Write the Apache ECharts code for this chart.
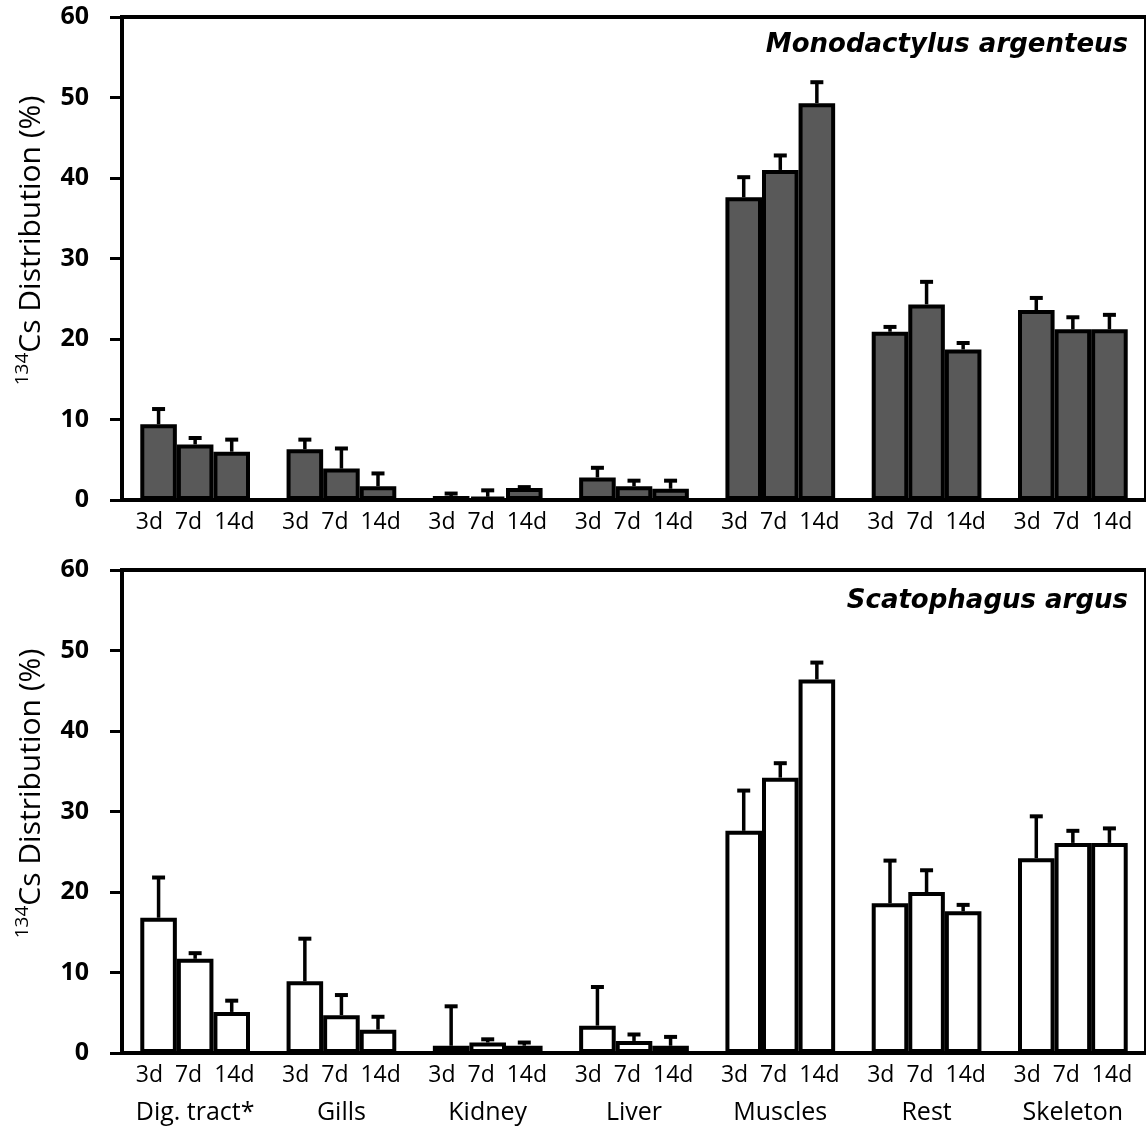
<!DOCTYPE html>
<html>
<head>
<meta charset="utf-8">
<script src="https://cdn.jsdelivr.net/npm/echarts@6/dist/echarts.min.js"></script>
<style>html,body{margin:0;padding:0;background:#fff}#c{width:1146px;height:1128px}</style>
</head>
<body>
<div id="c"></div>
<script>
const categories = ['Dig. tract*', 'Gills', 'Kidney', 'Liver', 'Muscles', 'Rest', 'Skeleton'];
const timeLabel = '3d  7d  14d';
const yTicks = [0, 10, 20, 30, 40, 50, 60];

// Monodactylus argenteus (mean, SD) for 3d, 7d, 14d
const maMean3d  = [9.4, 6.3, 0.5, 2.8, 37.6, 20.9, 23.6];
const maMean7d  = [6.9, 3.9, 0.4, 1.7, 41.0, 24.3, 21.2];
const maMean14d = [6.0, 1.7, 1.5, 1.4, 49.3, 18.7, 21.2];
const maSd3d    = [1.9, 1.2, 0.3, 1.2, 2.5, 0.6, 1.5];
const maSd7d    = [0.8, 2.5, 0.8, 0.7, 1.8, 2.8, 1.5];
const maSd14d   = [1.5, 1.6, 0.1, 1.0, 2.6, 0.8, 1.8];

// Scatophagus argus (mean, SD) for 3d, 7d, 14d
const saMean3d  = [16.8, 8.9, 0.9, 3.4, 27.6, 18.6, 24.2];
const saMean7d  = [11.7, 4.7, 1.3, 1.5, 34.2, 20.0, 26.1];
const saMean14d = [5.1, 2.9, 0.9, 0.9, 46.4, 17.6, 26.1];
const saSd3d    = [5.0, 5.3, 4.9, 4.8, 5.0, 5.3, 5.2];
const saSd7d    = [0.7, 2.5, 0.4, 0.8, 1.8, 2.7, 1.5];
const saSd14d   = [1.4, 1.6, 0.4, 1.1, 2.1, 0.8, 1.8];

const FONT = 'Open Sans';
const TITLE_FONT = 'DejaVu Sans';
const GAP = 0.25; // bar category gap

function errData(means, sds) {
  const out = [];
  means.forEach((ms, s) => ms.forEach((m, i) => out.push([i, m, sds[s][i], s])));
  return out;
}

function renderErr(params, api) {
  const cat = api.value(0), mean = api.value(1), sd = api.value(2), s = api.value(3);
  const base = api.coord([cat, mean]);
  const top = api.coord([cat, mean + sd]);
  const band = api.size([1, 0])[0];
  const bw = band * (1 - GAP) / 3;
  const x = base[0] + (s - 1) * bw;
  return {
    type: 'group',
    children: [
      {type: 'line', shape: {x1: x, y1: base[1], x2: x, y2: top[1]}, style: {stroke: '#000', lineWidth: 3.5}},
      {type: 'line', shape: {x1: x - 6.5, y1: top[1], x2: x + 6.5, y2: top[1]}, style: {stroke: '#000', lineWidth: 4}}
    ]
  };
}

function yAxisCfg(gi) {
  return {
    type: 'value', gridIndex: gi, min: 0, max: 60, interval: 10,
    splitLine: {show: false},
    axisLine: {show: true, lineStyle: {color: '#000', width: 4}},
    axisTick: {show: true, length: 12, lineStyle: {color: '#000', width: 3}},
    axisLabel: {color: '#000', fontFamily: FONT, fontWeight: 'bold', fontSize: 25, margin: 33,
      formatter: v => yTicks.includes(v) ? String(v) : ''},
    name: '{sup|134}{m|Cs Distribution (%)}',
    nameLocation: 'middle', nameGap: 73, nameRotate: 90,
    nameTextStyle: {color: '#000', fontFamily: FONT, fontSize: 30, padding: [0, 0, 0, 36],
      rich: {sup: {fontSize: 19, fontFamily: FONT, color: '#000', verticalAlign: 'top', lineHeight: 36},
             m: {fontSize: 30, fontFamily: FONT, color: '#000', lineHeight: 36}}}
  };
}

function barSeries(gi, data, color) {
  return {
    type: 'bar', xAxisIndex: gi, yAxisIndex: gi, data: data,
    barGap: '0%', barCategoryGap: (GAP * 100) + '%',
    itemStyle: {color: color, borderColor: '#000', borderWidth: 4},
    silent: true
  };
}

const option = {
  animation: false,
  backgroundColor: '#fff',
  title: [
    {text: 'Monodactylus argenteus', right: 13, top: 27,
     textStyle: {fontFamily: TITLE_FONT, fontStyle: 'italic', fontWeight: 'bold', fontSize: 26, color: '#000'}},
    {text: 'Scatophagus argus', right: 13, top: 583,
     textStyle: {fontFamily: TITLE_FONT, fontStyle: 'italic', fontWeight: 'bold', fontSize: 26, color: '#000'}}
  ],
  grid: [
    {left: 122, width: 1027, top: 17, height: 483, show: true, borderColor: '#000', borderWidth: 4, backgroundColor: 'transparent'},
    {left: 122, width: 1027, top: 570, height: 483, show: true, borderColor: '#000', borderWidth: 4, backgroundColor: 'transparent'}
  ],
  xAxis: [
    {type: 'category', gridIndex: 0, data: categories,
     axisLine: {lineStyle: {color: '#000', width: 4}}, axisTick: {show: false},
     axisLabel: {interval: 0, color: '#000', fontFamily: FONT, fontSize: 23, lineHeight: 28, margin: 8,
       formatter: () => timeLabel}},
    {type: 'category', gridIndex: 1, data: categories,
     axisLine: {lineStyle: {color: '#000', width: 4}}, axisTick: {show: false},
     axisLabel: {interval: 0, color: '#000', fontFamily: FONT, margin: 4,
       formatter: v => '{t|' + timeLabel + '}\n{n|' + v + '}',
       rich: {t: {fontSize: 23, lineHeight: 37, fontFamily: FONT, color: '#000'},
              n: {fontSize: 25, lineHeight: 37, fontFamily: FONT, color: '#000'}}}}
  ],
  yAxis: [yAxisCfg(0), yAxisCfg(1)],
  series: [
    barSeries(0, maMean3d, '#595959'),
    barSeries(0, maMean7d, '#595959'),
    barSeries(0, maMean14d, '#595959'),
    {type: 'custom', xAxisIndex: 0, yAxisIndex: 0, z: 5, silent: true,
     data: errData([maMean3d, maMean7d, maMean14d], [maSd3d, maSd7d, maSd14d]),
     encode: {x: 0, y: 1}, renderItem: renderErr},
    barSeries(1, saMean3d, '#ffffff'),
    barSeries(1, saMean7d, '#ffffff'),
    barSeries(1, saMean14d, '#ffffff'),
    {type: 'custom', xAxisIndex: 1, yAxisIndex: 1, z: 5, silent: true,
     data: errData([saMean3d, saMean7d, saMean14d], [saSd3d, saSd7d, saSd14d]),
     encode: {x: 0, y: 1}, renderItem: renderErr}
  ]
};

const chart = echarts.init(document.getElementById('c'), null, {renderer: 'canvas'});
chart.setOption(option);
</script>
</body>
</html>
